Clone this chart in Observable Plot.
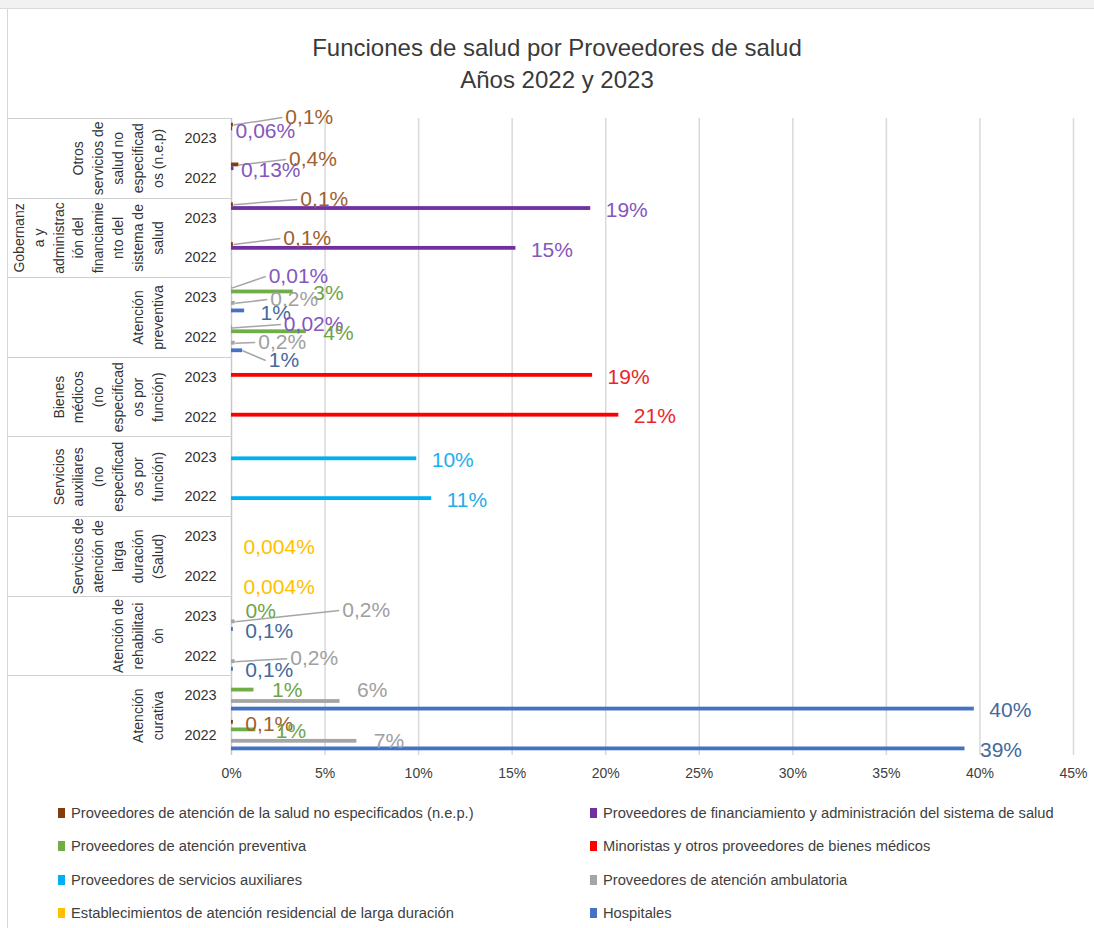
<!DOCTYPE html>
<html><head><meta charset="utf-8">
<script src="https://cdn.jsdelivr.net/npm/d3@7"></script>
<script src="https://cdn.jsdelivr.net/npm/@observablehq/plot@0.6"></script>
<style>
html,body{margin:0;padding:0;background:#fff;}
#page{position:relative;width:1094px;height:928px;overflow:hidden;font-family:"Liberation Sans",Arial,sans-serif;background:#fff;}
#topband{position:absolute;left:0;top:0;width:1094px;height:8px;background:#f1f1f1;border-bottom:1px solid #dadada;}
#leftline{position:absolute;left:7px;top:9px;width:1px;height:919px;background:#d6d6d6;}
#table{position:absolute;left:7px;top:118px;width:224px;height:637px;box-sizing:border-box;border-top:1px solid #cfcfcf;
  background:repeating-linear-gradient(to bottom, transparent 0px, transparent 78.6px, #cfcfcf 78.6px, #cfcfcf 79.625px);}
#title{position:absolute;left:0;top:32px;width:1114px;text-align:center;font-size:24px;line-height:32px;color:#3a3a3a;}
#chart{position:absolute;left:0;top:100px;}
#legend{position:absolute;left:58px;top:796px;display:grid;grid-template-columns:532px 480px;grid-auto-rows:33.5px;align-items:center;
  font-family:"Liberation Sans Narrow","Liberation Sans",sans-serif;font-size:14.7px;color:#404040;}
.item{display:flex;align-items:center;white-space:nowrap;}
.sw{width:7px;height:10px;margin-right:6px;flex:none;}
</style></head>
<body>
<div id="page">
  <div id="topband"></div>
  <div id="leftline"></div>
  <div id="table"></div>
  <div id="title">Funciones de salud por Proveedores de salud<br>Años 2022 y 2023</div>
  <div id="chart"></div>
  <div id="legend"></div>
</div>
<script>
// ---- data ----
const categories = [
  "Otros servicios de salud no especificados (n.e.p)",
  "Gobernanza y administración del financiamiento del sistema de salud",
  "Atención preventiva",
  "Bienes médicos (no especificados por función)",
  "Servicios auxiliares (no especificados por función)",
  "Servicios de atención de larga duración (Salud)",
  "Atención de rehabilitación",
  "Atención curativa"
];
const categoryLabels = [
  "Otros\nservicios de\nsalud no\nespecificad\nos (n.e.p)",
  "Gobernanz\na y\nadministrac\nión del\nfinanciamie\nnto del\nsistema de\nsalud",
  "Atención\npreventiva",
  "Bienes\nmédicos\n(no\nespecificad\nos por\nfunción)",
  "Servicios\nauxiliares\n(no\nespecificad\nos por\nfunción)",
  "Servicios de\natención de\nlarga\nduración\n(Salud)",
  "Atención de\nrehabilitaci\nón",
  "Atención\ncurativa"
];
const years = ["2023", "2022"];
const series = [
  "Proveedores de atención de la salud no especificados (n.e.p.)",
  "Proveedores de financiamiento y administración del sistema de salud",
  "Proveedores de atención preventiva",
  "Minoristas y otros proveedores de bienes médicos",
  "Proveedores de servicios auxiliares",
  "Proveedores de atención ambulatoria",
  "Establecimientos de atención residencial de larga duración",
  "Hospitales"
];
const seriesColors = ["#843C0C", "#7030A0", "#70AD47", "#FF0000", "#00B0F0", "#A5A5A5", "#FFC000", "#4472C4"];
const labelColors  = ["#A0602F", "#8456BE", "#6FA548", "#E8262B", "#1EAEEB", "#A0A0A0", "#FFC000", "#44699B"];
const tickValues = [0, 5, 10, 15, 20, 25, 30, 35, 40, 45];

// values (%) per series; order: each category × [2023, 2022]
const noEspecificados = [0.1, 0.4, 0.1, 0.1, null, null, null, null, null, null, null, null, null, null, null, 0.1];
const financiamiento  = [0.06, 0.13, 19.2, 15.2, 0.01, 0.02, null, null, null, null, null, null, null, null, null, null];
const preventiva      = [null, null, null, null, 3.3, 4.0, null, null, null, null, null, null, 0, null, 1.2, 1.3];
const minoristas      = [null, null, null, null, null, null, 19.3, 20.7, null, null, null, null, null, null, null, null];
const auxiliares      = [null, null, null, null, null, null, null, null, 9.9, 10.7, null, null, null, null, null, null];
const ambulatoria     = [null, null, null, null, 0.2, 0.2, null, null, null, null, null, null, 0.2, 0.2, 5.8, 6.7];
const residencial     = [null, null, null, null, null, null, null, null, null, null, 0.004, 0.004, null, null, null, null];
const hospitales      = [null, null, null, null, 0.7, 0.6, null, null, null, null, null, null, 0.1, 0.1, 39.7, 39.2];
const seriesValues = [noEspecificados, financiamiento, preventiva, minoristas, auxiliares, ambulatoria, residencial, hospitales];

// ---- label placement nudges (px): "series:slot" -> [dx from bar end, dy from bar centre, leader line]
const nudges = {
  "0:0": [52, -7.6, true], "1:0": [3, 2.6, false],
  "0:1": [50, -5.4, true], "1:1": [7, 1.8, false],
  "0:2": [67, -5.2, true], "0:3": [50, -6, true],
  "1:4": [37, -11.6, true], "2:4": [20, 1.6, false], "5:4": [35, -3.8, true], "7:4": [16, 2.6, false],
  "1:5": [52, -3.4, true], "2:5": [17, 1.8, false], "5:5": [23, -0.6, true], "7:5": [26, 9.8, true],
  "2:12": [14, 1, false], "5:12": [107, -11.3, true], "7:12": [12, 2, false],
  "5:13": [55, -3, true], "7:13": [12, 1.5, false],
  "2:14": [18, 0.5, false], "5:14": [17, -11, false],
  "0:15": [12, 2, false], "2:15": [20, 1.7, false], "5:15": [17, 0, false],
  "6:10": [12, 1.5, false], "6:11": [12, 1.5, false]
};

// ---- layout ----
const W = 1094, H = 690, mL = 231, mR = 21, mT = 18, mB = 35;
const pad = 1.24; // empty bar-slots above/below each cluster
const slots = categories.flatMap(c => years.map(y => c + " | " + y));
const pxX = (W - mL - mR) / (tickValues[tickValues.length - 1] - tickValues[0]);
const pxY = (H - mT - mB) / slots.length / (series.length + 2 * pad);

const fmt = v => v >= 0.5 ? Math.round(v) + "%" : String(v).replace(".", ",") + "%";

const bars = [];
seriesValues.forEach((vals, s) => vals.forEach((v, k) => {
  if (v == null) return;
  const n = nudges[s + ":" + k] || [15, 1.5, false];
  bars.push({
    s, slot: slots[k], value: v, label: fmt(v),
    lx: v + n[0] / pxX, ly: s + 0.5 + n[1] / pxY,
    leader: n[2], lx2: v + (n[0] - 3) / pxX
  });
}));
const leaders = bars.filter(d => d.leader);
const yearData = slots.map((slot, k) => ({slot, year: years[k % 2]}));
const catData = categories.map((c, i) => ({slot: slots[2 * i], label: categoryLabels[i]}));

const chart = Plot.plot({
  width: W, height: H, marginLeft: mL, marginRight: mR, marginTop: mT, marginBottom: mB,
  style: {background: "transparent", fontFamily: "'Liberation Sans Narrow', 'Liberation Sans', sans-serif", fontSize: "14px", color: "#404040"},
  x: {domain: [0, 45], ticks: tickValues, tickFormat: d => d + "%", tickSize: 0, tickPadding: 13, label: null},
  y: {domain: [-pad, series.length + pad], reverse: true, axis: null},
  fy: {domain: slots, padding: 0, round: false, axis: null},
  color: {type: "identity"},
  marks: [
    Plot.ruleX(tickValues.slice(1), {stroke: "#d9d9d9", strokeWidth: 1.5}),
    Plot.ruleX([0], {stroke: "#c8c8c8", strokeWidth: 1.5}),
    Plot.rect(bars, {fy: "slot", x1: 0, x2: "value", y1: "s", y2: d => d.s + 1, fill: d => seriesColors[d.s]}),
    Plot.link(leaders, {fy: "slot", x1: "value", y1: d => d.s + 0.5, x2: "lx2", y2: "ly", stroke: "#a6a6a6", strokeWidth: 1.5}),
    Plot.text(bars, {fy: "slot", x: "lx", y: "ly", text: "label", fill: d => labelColors[d.s], textAnchor: "start",
      fontSize: 21, fontFamily: "'Liberation Sans', sans-serif"}),
    Plot.text(yearData, {fy: "slot", frameAnchor: "left", dx: -31, text: "year", textAnchor: "middle",
      fontSize: 14.5, fill: "#333", fontFamily: "'Liberation Sans', sans-serif"}),
    Plot.text(catData, {fy: "slot", frameAnchor: "bottom-left", dx: -68.5, text: "label", rotate: -90,
      lineAnchor: "bottom", lineHeight: 1.42, textAnchor: "middle", fontSize: 14, fill: "#333",
      fontFamily: "'Liberation Sans', sans-serif"})
  ]
});
document.getElementById("chart").appendChild(chart);

const legend = document.getElementById("legend");
series.forEach((name, i) => {
  const item = document.createElement("div");
  item.className = "item";
  const sw = document.createElement("span");
  sw.className = "sw";
  sw.style.background = seriesColors[i];
  const tx = document.createElement("span");
  tx.textContent = name;
  item.appendChild(sw); item.appendChild(tx);
  legend.appendChild(item);
});
</script>
</body></html>
